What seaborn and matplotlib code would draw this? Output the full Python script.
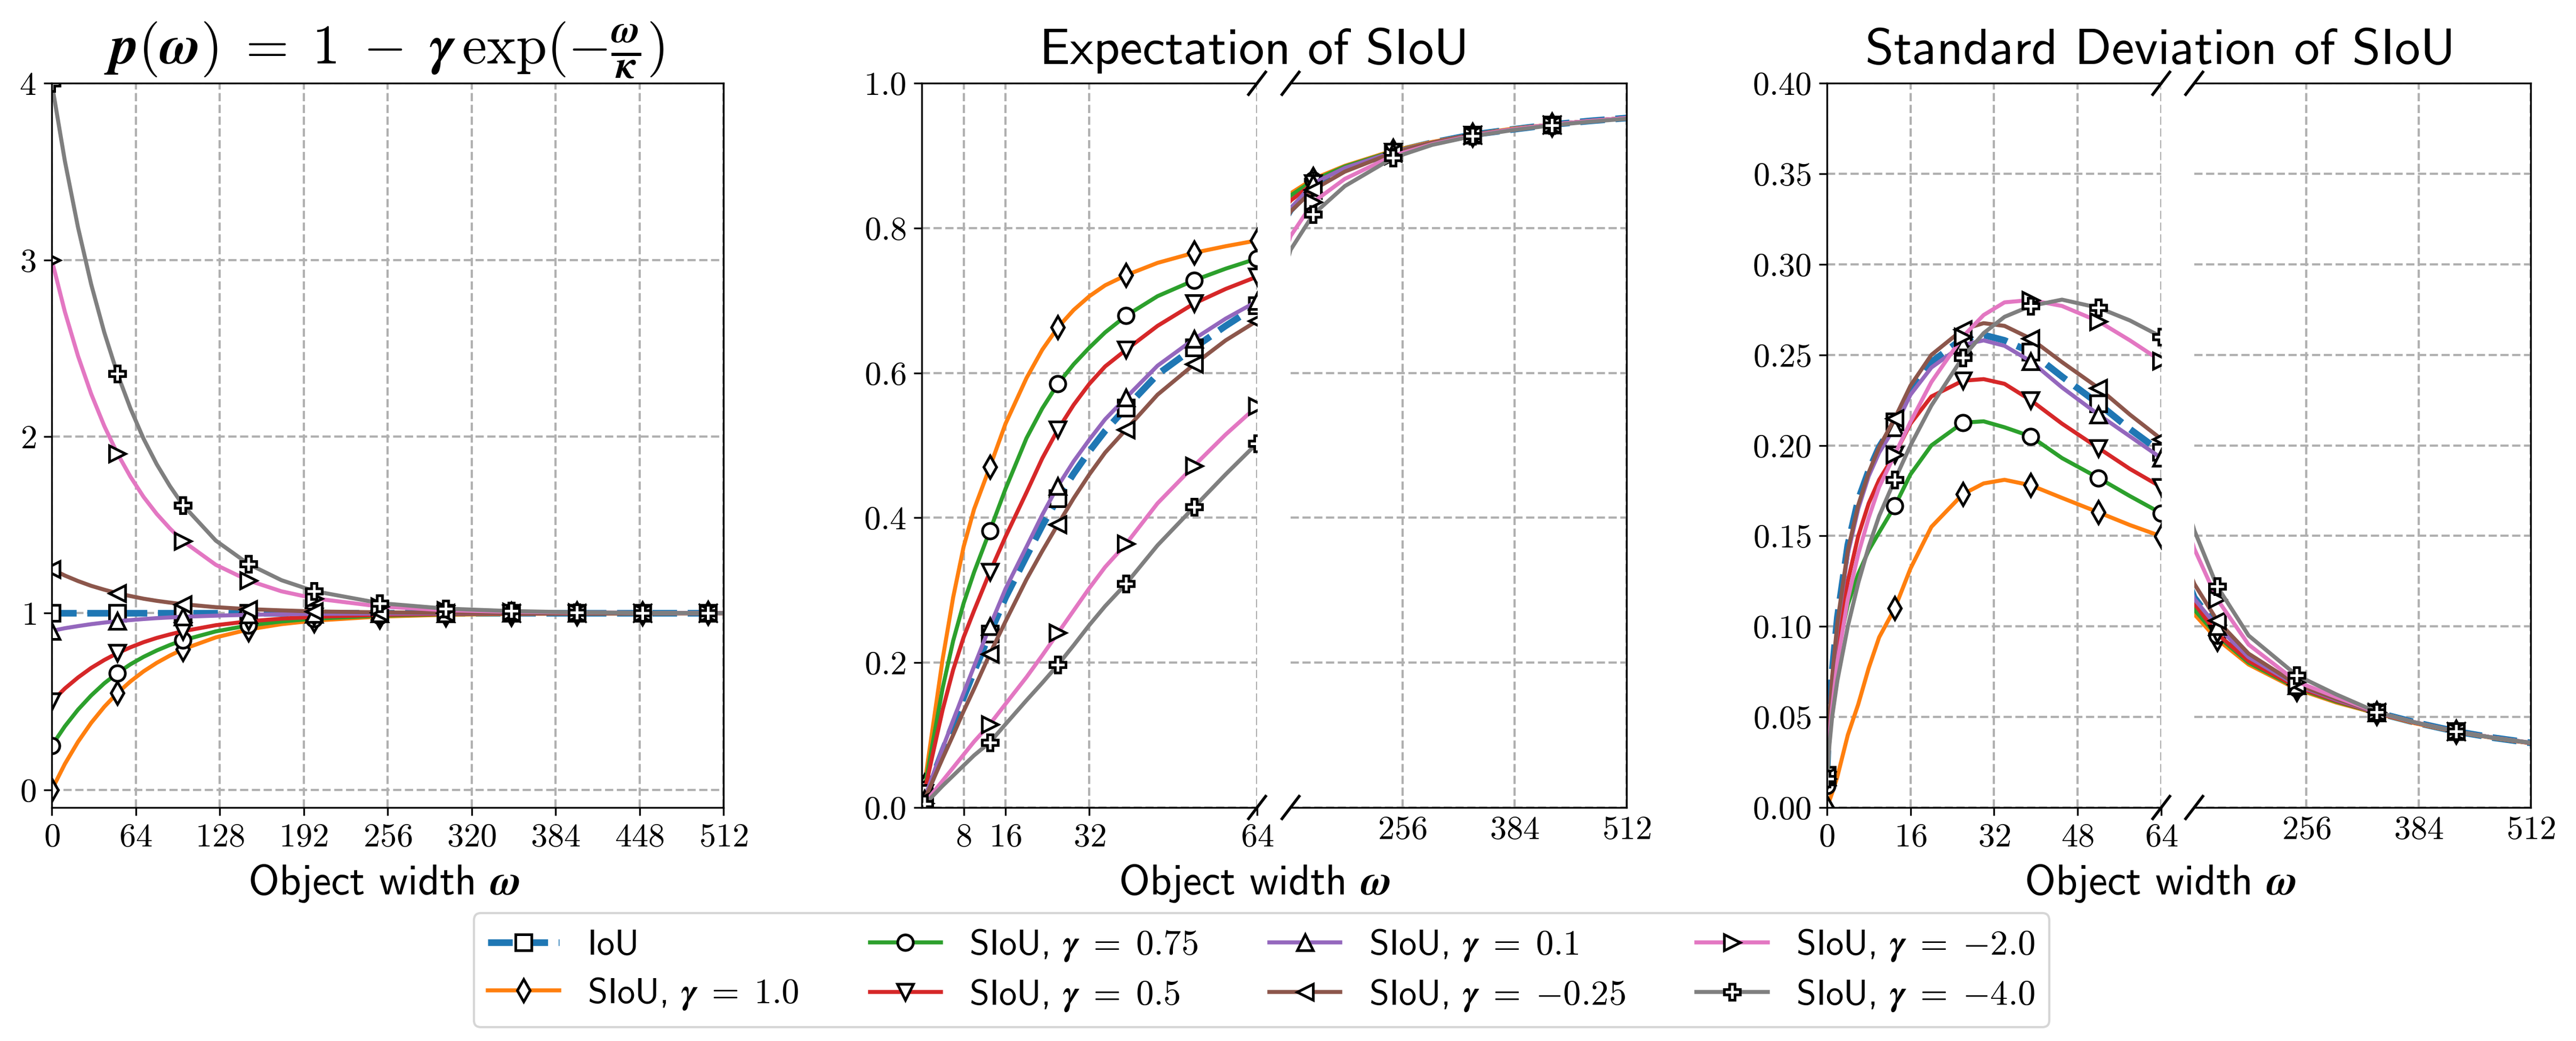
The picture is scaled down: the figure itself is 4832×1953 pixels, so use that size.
import matplotlib
matplotlib.use("Agg")
import matplotlib.pyplot as plt
import seaborn as sns

plt.rcParams['font.family'] = 'cmss10'
plt.rcParams['mathtext.fontset'] = 'cm'
plt.rcParams['axes.unicode_minus'] = False

# ---------------- data ----------------
gammas = ['1.0', '0.75', '0.5', '0.1', '-0.25', '-2.0', '-4.0']

# panel A: p(w)
w_a = [0, 10, 20, 30, 40, 50, 60, 70, 80, 90, 100, 125, 150, 175, 200, 250, 300, 350, 400, 450, 500, 512]
p_iou = [1.0] * 22
p_g1 = [0.0, 0.147, 0.272, 0.379, 0.470, 0.548, 0.614, 0.671, 0.719, 0.760, 0.796, 0.863, 0.908, 0.938, 0.958, 0.981, 0.991, 0.996, 0.998, 0.999, 1.0, 1.0]
p_g075 = [0.25, 0.360, 0.454, 0.534, 0.603, 0.661, 0.711, 0.753, 0.789, 0.820, 0.847, 0.897, 0.931, 0.953, 0.969, 0.986, 0.994, 0.997, 0.999, 0.999, 1.0, 1.0]
p_g05 = [0.5, 0.574, 0.636, 0.690, 0.735, 0.774, 0.807, 0.836, 0.860, 0.880, 0.898, 0.932, 0.954, 0.969, 0.979, 0.991, 0.996, 0.998, 0.999, 1.0, 1.0, 1.0]
p_g01 = [0.9, 0.915, 0.927, 0.938, 0.947, 0.955, 0.961, 0.967, 0.972, 0.976, 0.980, 0.986, 0.991, 0.994, 0.996, 0.998, 0.999, 1.0, 1.0, 1.0, 1.0, 1.0]
p_gm025 = [1.25, 1.213, 1.182, 1.155, 1.133, 1.113, 1.097, 1.082, 1.070, 1.060, 1.051, 1.034, 1.023, 1.016, 1.010, 1.005, 1.002, 1.001, 1.0, 1.0, 1.0, 1.0]
p_gm2 = [3.0, 2.706, 2.456, 2.242, 2.060, 1.904, 1.772, 1.658, 1.562, 1.480, 1.408, 1.274, 1.185, 1.124, 1.084, 1.038, 1.017, 1.008, 1.004, 1.002, 1.001, 1.001]
p_gm4 = [4.0, 3.559, 3.184, 2.863, 2.590, 2.356, 2.158, 1.987, 1.843, 1.720, 1.612, 1.411, 1.278, 1.187, 1.125, 1.057, 1.026, 1.012, 1.005, 1.002, 1.001, 1.001]

# panel B: expectation of SIoU
w_b = [0.5, 2, 4, 6, 8, 10, 13, 16, 20, 23, 26, 29, 32, 35, 39, 45, 52, 58, 64,
       128, 154, 190, 245, 290, 336, 380, 427, 470, 512]
mean_iou = [0.011, 0.040, 0.078, 0.115, 0.152, 0.188, 0.240, 0.290, 0.347, 0.389, 0.427, 0.461, 0.492, 0.520, 0.552, 0.598, 0.635, 0.665, 0.693,
            0.825, 0.857, 0.881, 0.905, 0.918, 0.929, 0.936, 0.943, 0.948, 0.952]
mean_g1 = [0.030, 0.105, 0.205, 0.290, 0.360, 0.412, 0.470, 0.530, 0.593, 0.632, 0.663, 0.687, 0.706, 0.721, 0.735, 0.752, 0.766, 0.775, 0.783,
           0.848, 0.868, 0.886, 0.907, 0.919, 0.929, 0.937, 0.943, 0.948, 0.952]
mean_g075 = [0.025, 0.085, 0.165, 0.230, 0.282, 0.325, 0.382, 0.440, 0.510, 0.551, 0.585, 0.612, 0.635, 0.656, 0.679, 0.706, 0.728, 0.744, 0.758,
             0.845, 0.866, 0.885, 0.906, 0.918, 0.929, 0.936, 0.943, 0.948, 0.952]
mean_g05 = [0.020, 0.070, 0.135, 0.190, 0.235, 0.272, 0.325, 0.374, 0.435, 0.482, 0.522, 0.556, 0.585, 0.609, 0.632, 0.665, 0.696, 0.716, 0.733,
            0.838, 0.862, 0.883, 0.905, 0.918, 0.929, 0.936, 0.943, 0.948, 0.952]
mean_g01 = [0.012, 0.042, 0.082, 0.120, 0.158, 0.195, 0.250, 0.302, 0.360, 0.404, 0.444, 0.478, 0.508, 0.536, 0.566, 0.610, 0.647, 0.675, 0.699,
            0.827, 0.862, 0.883, 0.905, 0.918, 0.929, 0.936, 0.943, 0.948, 0.952]
mean_gm025 = [0.010, 0.035, 0.068, 0.100, 0.133, 0.164, 0.212, 0.257, 0.315, 0.354, 0.391, 0.427, 0.460, 0.490, 0.522, 0.570, 0.612, 0.645, 0.672,
              0.823, 0.853, 0.878, 0.904, 0.918, 0.929, 0.936, 0.943, 0.948, 0.952]
mean_gm2 = [0.006, 0.019, 0.037, 0.055, 0.073, 0.091, 0.115, 0.143, 0.180, 0.210, 0.241, 0.272, 0.303, 0.332, 0.364, 0.420, 0.472, 0.515, 0.554,
            0.789, 0.836, 0.868, 0.900, 0.916, 0.928, 0.936, 0.943, 0.948, 0.952]
mean_gm4 = [0.005, 0.015, 0.030, 0.044, 0.058, 0.072, 0.090, 0.115, 0.148, 0.172, 0.197, 0.224, 0.252, 0.278, 0.309, 0.362, 0.415, 0.460, 0.503,
            0.770, 0.819, 0.858, 0.897, 0.915, 0.927, 0.935, 0.942, 0.947, 0.951]

# panel C: standard deviation of SIoU
w_c = [0, 0.5, 1, 2, 4, 6, 8, 10, 13, 16, 20, 26, 30, 34, 39, 45, 52, 58, 64,
       128, 154, 190, 245, 290, 336, 380, 427, 470, 512]
std_iou = [0.018, 0.055, 0.075, 0.105, 0.145, 0.170, 0.186, 0.199, 0.213, 0.230, 0.246, 0.259, 0.261, 0.258, 0.2516, 0.238, 0.223, 0.209, 0.1963,
           0.116, 0.0995, 0.083, 0.0675, 0.0595, 0.0525, 0.047, 0.042, 0.0385, 0.0357]
std_g1 = [0.0, 0.004, 0.008, 0.017, 0.040, 0.057, 0.077, 0.094, 0.110, 0.132, 0.155, 0.173, 0.179, 0.181, 0.178, 0.171, 0.163, 0.156, 0.1498,
          0.1068, 0.093, 0.079, 0.0654, 0.058, 0.052, 0.0465, 0.0418, 0.0383, 0.0355]
std_g075 = [0.012, 0.040, 0.055, 0.085, 0.112, 0.129, 0.142, 0.152, 0.1665, 0.184, 0.200, 0.2125, 0.2133, 0.210, 0.205, 0.193, 0.182, 0.172, 0.1625,
            0.1093, 0.095, 0.080, 0.066, 0.0585, 0.0522, 0.0468, 0.042, 0.0384, 0.0356]
std_g05 = [0.015, 0.045, 0.060, 0.090, 0.125, 0.150, 0.168, 0.181, 0.195, 0.212, 0.227, 0.2357, 0.2366, 0.234, 0.225, 0.212, 0.1985, 0.187, 0.177,
           0.1127, 0.096, 0.081, 0.0665, 0.059, 0.0523, 0.0468, 0.042, 0.0385, 0.0356]
std_g01 = [0.017, 0.050, 0.070, 0.100, 0.140, 0.165, 0.183, 0.196, 0.210, 0.228, 0.243, 0.2555, 0.258, 0.255, 0.2465, 0.232, 0.217, 0.205, 0.193,
           0.1152, 0.100, 0.083, 0.0675, 0.0595, 0.0525, 0.047, 0.042, 0.0385, 0.0357]
std_gm025 = [0.017, 0.050, 0.072, 0.102, 0.142, 0.167, 0.185, 0.199, 0.215, 0.233, 0.250, 0.264, 0.2675, 0.266, 0.259, 0.246, 0.2317, 0.217, 0.2035,
             0.1236, 0.1034, 0.085, 0.068, 0.060, 0.0527, 0.047, 0.042, 0.0385, 0.0357]
std_gm2 = [0.016, 0.040, 0.055, 0.080, 0.115, 0.140, 0.160, 0.177, 0.195, 0.213, 0.235, 0.260, 0.272, 0.279, 0.2803, 0.277, 0.2685, 0.258, 0.2466,
           0.143, 0.1152, 0.090, 0.0695, 0.061, 0.0527, 0.047, 0.042, 0.0385, 0.0358]
std_gm4 = [0.016, 0.035, 0.050, 0.070, 0.100, 0.124, 0.144, 0.161, 0.181, 0.200, 0.222, 0.2486, 0.262, 0.271, 0.277, 0.2805, 0.276, 0.269, 0.260,
           0.1532, 0.1223, 0.095, 0.073, 0.0625, 0.0528, 0.047, 0.042, 0.0385, 0.0358]

series_a = [p_iou, p_g1, p_g075, p_g05, p_g01, p_gm025, p_gm2, p_gm4]
series_b = [mean_iou, mean_g1, mean_g075, mean_g05, mean_g01, mean_gm025, mean_gm2, mean_gm4]
series_c = [std_iou, std_g1, std_g075, std_g05, std_g01, std_gm025, std_gm2, std_gm4]

# ---------------- styles ----------------
colors = ['#1f77b4', '#ff7f0e', '#2ca02c', '#d62728', '#9467bd', '#8c564b', '#e377c2', '#7f7f7f']
markers = ['s', 'd', 'o', 'v', '^', '<', '>', 'P']
labels = ['IoU'] + [r'SIoU, $\boldsymbol{\gamma}\;=\;\mathbf{%s}$' % g for g in gammas]

mark_a = [i for i, w in enumerate(w_a) if w % 50 == 0]
mark_b = [w_b.index(w) for w in [0.5, 13, 26, 39, 52, 64, 154, 245, 336, 427]]
mark_c = [w_c.index(w) for w in [0, 13, 26, 39, 52, 64, 154, 245, 336, 427]]

TICK_FS = 15
GRID = dict(ls='--', color='#b0b0b0', lw=1.0)


def bold(vals):
    return [r'$\mathbf{%s}$' % v for v in vals]


def draw(ax, x, ys, markevery):
    for i, y in enumerate(ys):
        is_iou = i == 0
        sns.lineplot(x=x, y=y, ax=ax, color=colors[i], lw=3.0 if is_iou else 1.8,
                     linestyle='--' if is_iou else '-', marker=markers[i], markevery=markevery,
                     markersize=7, markerfacecolor='white', markeredgecolor='black',
                     markeredgewidth=1.2, estimator=None, sort=False, legend=False)
    ax.set_xlabel('')
    ax.set_ylabel('')
    ax.grid(True, **GRID)
    ax.set_axisbelow(True)


def break_marks(ax_l, ax_r):
    dx = 16 / 629
    dy = 21 / 1359
    kw = dict(color='k', clip_on=False, lw=1.3)
    for yy in (0, 1):
        ax_l.plot([1 - dx, 1 + dx], [yy - dy, yy + dy], transform=ax_l.transAxes, **kw)
        ax_r.plot([-dx, dx], [yy - dy, yy + dy], transform=ax_r.transAxes, **kw)


fig = plt.figure(figsize=(4832 / 300, 1953 / 300), dpi=300)
bottom, height = 0.2243, 0.6957

# ---------------- panel A ----------------
axA = fig.add_axes([0.0201, bottom, 0.2608, height])
draw(axA, w_a, series_a, mark_a)
axA.set_xlim(0, 512)
axA.set_ylim(-0.1, 4)
xt = list(range(0, 513, 64))
axA.set_xticks(xt)
axA.set_xticklabels(bold(xt), fontsize=TICK_FS)
axA.set_yticks([0, 1, 2, 3, 4])
axA.set_yticklabels(bold([0, 1, 2, 3, 4]), fontsize=TICK_FS)


def broken(pos, x, ys, markevery, xt_l, yl, yt, ytl):
    ax_l = fig.add_axes([pos[0], bottom, pos[1], height])
    ax_r = fig.add_axes([pos[2], bottom, pos[3], height])
    for ax in (ax_l, ax_r):
        draw(ax, x, ys, markevery)
        ax.set_ylim(*yl)
        ax.set_yticks(yt)
    ax_l.set_xlim(0, 64)
    ax_r.set_xlim(128, 512)
    ax_l.set_xticks(xt_l)
    ax_l.set_xticklabels(bold(xt_l), fontsize=TICK_FS)
    ax_r.set_xticks([256, 384, 512])
    ax_r.set_xticklabels(bold([256, 384, 512]), fontsize=TICK_FS)
    ax_l.set_yticklabels(bold(ytl), fontsize=TICK_FS)
    ax_l.spines['right'].set_visible(False)
    ax_r.spines['left'].set_visible(False)
    ax_r.tick_params(axis='y', left=False, labelleft=False)
    ax_r.tick_params(axis='x', length=0)
    break_marks(ax_l, ax_r)
    return ax_l, ax_r


yt_b = [0.0, 0.2, 0.4, 0.6, 0.8, 1.0]
broken([0.3578, 0.1302, 0.5010, 0.1304], w_b, series_b, mark_b, [8, 16, 32, 64],
       (0, 1.0), yt_b, ['%.1f' % v for v in yt_b])

yt_c = [0.0, 0.05, 0.10, 0.15, 0.20, 0.25, 0.30, 0.35, 0.40]
broken([0.7092, 0.1298, 0.8518, 0.1306], w_c, series_c, mark_c, [0, 16, 32, 48, 64],
       (0, 0.4), yt_c, ['%.2f' % v for v in yt_c])

# ---------------- titles and labels ----------------
fig.text(0.149, 0.9386,
         r'$\boldsymbol{p}(\boldsymbol{\omega})\;=\;\mathbf{1}\;-\;\boldsymbol{\gamma}\,'
         r'\exp(-\frac{\boldsymbol{\omega}}{\boldsymbol{\kappa}})$',
         ha='center', va='baseline', fontsize=25)
fig.text(0.487, 0.9386, 'Expectation of SIoU', ha='center', va='baseline', fontsize=23)
fig.text(0.8386, 0.9386, 'Standard Deviation of SIoU', ha='center', va='baseline', fontsize=23)
for xc in (0.149, 0.487, 0.8386):
    fig.text(xc, 0.1408, r'Object width $\boldsymbol{\omega}$', ha='center', va='baseline', fontsize=19)

handles = axA.get_lines()[:8]
fig.legend(handles, labels, loc='center', bbox_to_anchor=(0.4897, 0.068), ncol=4,
           fontsize=16, columnspacing=2.0, handlelength=2.0, borderpad=0.4,
           labelspacing=0.4)

fig.savefig('out.png', dpi=300)
